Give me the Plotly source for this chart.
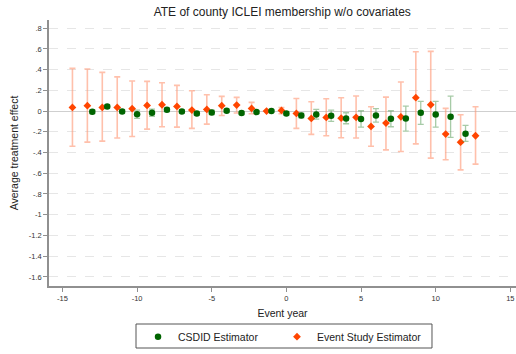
import plotly.graph_objects as go

# ---- data ----
es_years = [-14, -13, -12, -11, -10, -9, -8, -7, -6, -5, -4, -3, -2, -1,
            0, 1, 2, 3, 4, 5, 6, 7, 8, 9, 10, 11, 12, 13]
es_est = [0.035, 0.052, 0.035, 0.035, 0.023, 0.055, 0.061, 0.045, 0.010, 0.016,
          0.052, 0.058, 0.026, 0.0, 0.006, -0.023, -0.071, -0.061, -0.068, -0.060,
          -0.148, -0.116, -0.055, 0.129, 0.061, -0.222, -0.300, -0.238]
es_lo = [-0.340, -0.300, -0.290, -0.260, -0.245, -0.174, -0.151, -0.155, -0.167, -0.126,
         -0.042, -0.019, -0.026, 0.0, -0.026, -0.167, -0.225, -0.238, -0.258, -0.260,
         -0.340, -0.374, -0.390, -0.316, -0.454, -0.470, -0.567, -0.512]
es_hi = [0.412, 0.406, 0.374, 0.330, 0.290, 0.287, 0.274, 0.248, 0.196, 0.158,
         0.142, 0.132, 0.084, 0.0, 0.035, 0.122, 0.090, 0.119, 0.129, 0.145,
         0.042, 0.135, 0.280, 0.573, 0.576, 0.026, -0.035, 0.042]

cs_years = [-13, -12, -11, -10, -9, -8, -7, -6, -5, -4, -3, -2, -1,
            0, 1, 2, 3, 4, 5, 6, 7, 8, 9, 10, 11, 12]
cs_est = [-0.006, 0.045, -0.003, -0.030, -0.016, 0.013, -0.003, -0.023, -0.013, 0.003,
          -0.019, -0.010, 0.0, -0.023, -0.042, -0.032, -0.045, -0.071, -0.077, -0.042,
          -0.074, -0.071, -0.016, -0.032, -0.055, -0.219]
cs_lo = [-0.025, 0.030, -0.020, -0.070, -0.050, -0.005, -0.020, -0.040, -0.035, -0.012,
         -0.035, -0.025, -0.010, -0.040, -0.065, -0.077, -0.100, -0.122, -0.155, -0.106,
         -0.151, -0.193, -0.129, -0.155, -0.254, -0.293]
cs_hi = [0.013, 0.060, 0.015, 0.010, 0.018, 0.030, 0.014, -0.006, 0.009, 0.018,
         -0.003, 0.005, 0.010, -0.006, -0.020, 0.016, 0.010, -0.016, 0.003, 0.023,
         0.003, 0.048, 0.093, 0.093, 0.145, -0.138]

y_ticks = [0.8, 0.6, 0.4, 0.2, 0, -0.2, -0.4, -0.6, -0.8, -1, -1.2, -1.4, -1.6]
y_labels = [".8", ".6", ".4", ".2", "0", "-.2", "-.4", "-.6", "-.8", "-1", "-1.2", "-1.4", "-1.6"]
x_ticks = [-15, -10, -5, 0, 5, 10, 15]
x_labels = ["-15", "-10", "-5", "0", "5", "10", "15"]

ES_SHIFT = -0.33
FONT = "Liberation Sans, Arial, sans-serif"

fig = go.Figure()

fig.add_trace(go.Scatter(
    x=[e + ES_SHIFT for e in es_years], y=es_est, mode="markers",
    name="Event Study Estimator", legend="legend2",
    marker=dict(symbol="diamond", size=6, color="#FF4500"),
    error_y=dict(type="data", symmetric=False,
                 array=[h - v for h, v in zip(es_hi, es_est)],
                 arrayminus=[v - l for v, l in zip(es_est, es_lo)],
                 color="rgba(255,150,115,0.6)", thickness=1.6, width=3),
))
fig.add_trace(go.Scatter(
    x=cs_years, y=cs_est, mode="markers",
    name="CSDID Estimator", legend="legend",
    marker=dict(symbol="circle", size=6.5, color="#006400"),
    error_y=dict(type="data", symmetric=False,
                 array=[h - v for h, v in zip(cs_hi, cs_est)],
                 arrayminus=[v - l for v, l in zip(cs_est, cs_lo)],
                 color="rgba(60,140,60,0.45)", thickness=1.3, width=3),
))

# legend frame (drawn as a rectangle around the legend entries)
fig.add_shape(type="rect", xref="paper", yref="paper",
              x0=0.1863, x1=0.8201, y0=-0.2331, y1=-0.1429,
              line=dict(color="#555", width=1), fillcolor="rgba(0,0,0,0)")

leg_common = dict(orientation="h", xref="container", yref="container",
                  xanchor="left", y=0.09, yanchor="top",
                  borderwidth=0, bgcolor="rgba(0,0,0,0)",
                  font=dict(size=10.5, family=FONT, color="#222"))

fig.update_layout(
    width=516, height=354,
    margin=dict(l=49, r=0, t=20, b=68),
    paper_bgcolor="white", plot_bgcolor="white",
    font=dict(family=FONT, color="#222"),
    title=dict(text="ATE of county ICLEI membership w/o covariates",
               x=0.547, xanchor="center", y=0.967, yanchor="middle",
               font=dict(size=12, color="#222", family=FONT)),
    showlegend=True,
    legend=dict(x=0.2675, **leg_common),
    legend2=dict(x=0.5368, **leg_common),
)

fig.update_xaxes(
    range=[-15.9, 15.38], tickvals=x_ticks, ticktext=x_labels,
    automargin=False,
    showgrid=False, zeroline=False,
    showline=True, linecolor="#909090", linewidth=1.5,
    ticks="outside", ticklen=4, tickcolor="#909090", tickwidth=1,
    tickfont=dict(size=7.5, family=FONT, color="#333"),
    title=dict(text="Event year", font=dict(size=10.5, family=FONT, color="#222"), standoff=8),
)
fig.update_yaxes(
    range=[-1.688, 0.879], tickvals=y_ticks, ticktext=y_labels,
    automargin=False,
    showgrid=True, gridcolor="#e6e6e6", griddash="dash", gridwidth=1,
    zeroline=True, zerolinecolor="#cfcfcf", zerolinewidth=1,
    showline=True, linecolor="#909090", linewidth=1.5,
    ticks="outside", ticklen=4, tickcolor="#909090", tickwidth=1,
    tickfont=dict(size=7.5, family=FONT, color="#333"),
    title=dict(text="Average treatment effect", font=dict(size=10.5, family=FONT, color="#222"), standoff=8),
)

fig.write_html("out.html", config={"displayModeBar": False},
               post_script="document.body.style.margin='0';")
